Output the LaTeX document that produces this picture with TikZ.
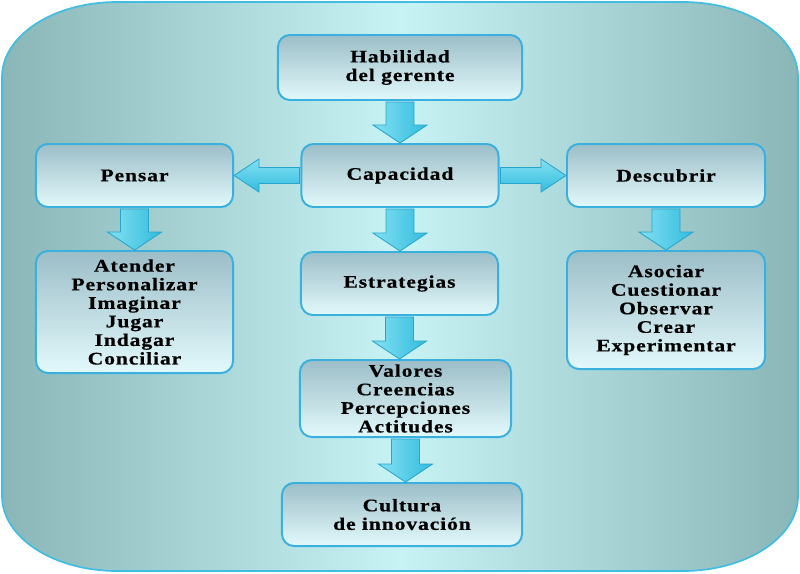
\documentclass[tikz,border=0pt]{standalone}
\usepackage{fontspec}
\setmainfont{Liberation Serif}[FakeStretch=1.22,LetterSpace=5,
    BoldFeatures={FakeBold=0.5}]
\usepackage{xcolor}
\usetikzlibrary{calc}

\definecolor{bgedge}{RGB}{138,182,184}
\definecolor{bgmid}{RGB}{200,243,245}
\definecolor{frameline}{RGB}{64,190,225}
\definecolor{boxtop}{RGB}{156,190,200}
\definecolor{boxbot}{RGB}{226,249,251}
\definecolor{boxline}{RGB}{58,176,222}
\definecolor{arrowlight}{RGB}{132,224,242}
\definecolor{arrowdark}{RGB}{50,188,222}
\definecolor{arrowline}{RGB}{40,165,205}

\begin{document}
\begin{tikzpicture}[
    x=0.025cm,
    y=-0.025cm,
    every node/.style={font=\bfseries\fontsize{12.6}{13.2}\selectfont},
    box/.style={
        draw=boxline,
        line width=1.4pt,
        rounded corners=8.5pt,
        top color=boxtop,
        bottom color=boxbot,
        align=center,
        inner sep=2pt
    },
    varrow/.style={
        draw=arrowline,
        line width=0.6pt,
        left color=arrowlight,
        right color=arrowdark
    },
    harrow/.style={
        draw=arrowline,
        line width=0.6pt,
        top color=arrowlight,
        bottom color=arrowdark
    }
]

\useasboundingbox (0,0) rectangle (800,573);

% ---------------------------------------------------------
% Background panel
% ---------------------------------------------------------

\draw[frameline,line width=1.2pt,
      left color=bgedge,right color=bgedge,middle color=bgmid]
    (117,2) -- (683,2)
    arc[start angle=270,end angle=360,x radius=115,y radius=75]
    -- (798,496)
    arc[start angle=0,end angle=90,x radius=115,y radius=75]
    -- (117,571)
    arc[start angle=90,end angle=180,x radius=115,y radius=75]
    -- (2,77)
    arc[start angle=180,end angle=270,x radius=115,y radius=75]
    -- cycle;

% ---------------------------------------------------------
% Boxes
% ---------------------------------------------------------

\node[box,minimum width=6.1cm,minimum height=1.625cm]
    (hab) at (400,67.5) {Habilidad\\del gerente};

\node[box,minimum width=4.925cm,minimum height=1.575cm]
    (cap) at (400,175.5) {Capacidad};

\node[box,minimum width=4.925cm,minimum height=1.575cm]
    (pen) at (134.5,175.5) {Pensar};

\node[box,minimum width=4.95cm,minimum height=1.575cm]
    (des) at (666,175.5) {Descubrir};

\node[box,minimum width=4.925cm,minimum height=3.05cm]
    (ate) at (134.5,312)
    {Atender\\Personalizar\\Imaginar\\Jugar\\Indagar\\Conciliar};

\node[box,minimum width=4.925cm,minimum height=1.575cm]
    (est) at (399.5,283.5) {Estrategias};

\node[box,minimum width=4.95cm,minimum height=2.95cm]
    (aso) at (666,310)
    {Asociar\\Cuestionar\\Observar\\Crear\\Experimentar};

\node[box,minimum width=5.275cm,minimum height=1.925cm]
    (val) at (405.5,398.5)
    {Valores\\Creencias\\Percepciones\\Actitudes};

\node[box,minimum width=6.0cm,minimum height=1.575cm]
    (cul) at (402,514.5) {Cultura\\de innovación};

% ---------------------------------------------------------
% Block arrows
% ---------------------------------------------------------

\foreach \a/\b in {hab/cap, cap/est, est/val, val/cul, pen/ate, des/aso}{
    \draw[varrow]
        ($(\a.south)+(-14,1)$)
        -- ($(\a.south |- \b.north)+(-14,-18)$)
        -- ($(\a.south |- \b.north)+(-27,-18)$)
        -- (\a.south |- \b.north)
        -- ($(\a.south |- \b.north)+(27,-18)$)
        -- ($(\a.south |- \b.north)+(14,-18)$)
        -- ($(\a.south)+(14,1)$)
        -- cycle;
}

\foreach \b/\p/\q/\s in {pen/west/east/1, des/east/west/-1}{
    \draw[harrow]
        ($(cap.\p)+(-\s,-8)$)
        -- ($(cap.\p -| \b.\q)+(\s*25,-8)$)
        -- ($(cap.\p -| \b.\q)+(\s*25,-16.5)$)
        -- (cap.\p -| \b.\q)
        -- ($(cap.\p -| \b.\q)+(\s*25,16.5)$)
        -- ($(cap.\p -| \b.\q)+(\s*25,8)$)
        -- ($(cap.\p)+(-\s,8)$)
        -- cycle;
}

\end{tikzpicture}
\end{document}
